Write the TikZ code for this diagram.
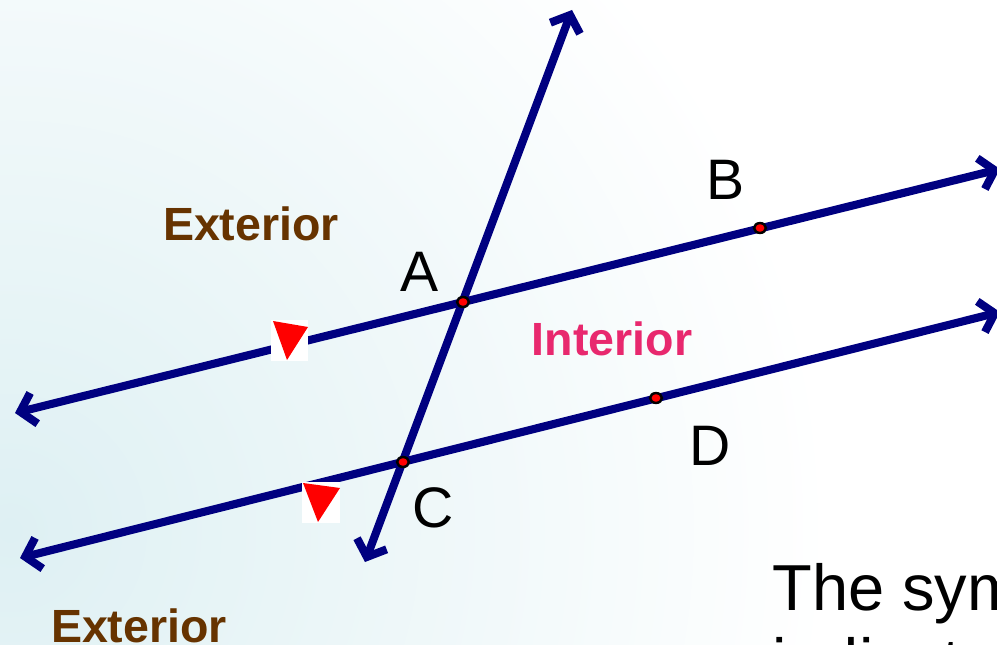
\documentclass[tikz,border=0pt]{standalone}
\usepackage{fontspec}
\setmainfont{Liberation Sans}
\usetikzlibrary{arrows.meta}
\definecolor{navyline}{RGB}{0,0,128}
\definecolor{extbrown}{RGB}{102,51,0}
\definecolor{intpink}{RGB}{232,40,110}
\definecolor{bgcyan}{RGB}{222,240,243}
\tikzset{
  parline/.style={navyline,line width=4.6pt,
    {Straight Barb[length=8pt,width=18pt]}-{Straight Barb[length=8pt,width=18pt]}},
  ptlabel/.style={anchor=base,inner sep=0pt,font=\fontsize{32.5}{37}\selectfont},
  region/.style={anchor=base,inner sep=0pt,font=\fontsize{26.5}{31}\selectfont\bfseries},
  note/.style={anchor=base west,inner sep=0pt,font=\fontsize{37}{44}\selectfont},
  reddot/.style={fill=red,draw=black,line width=1.4pt}
}
\begin{document}
\begin{tikzpicture}[x=0.02cm,y=-0.02cm]
  \useasboundingbox (0,0) rectangle (997,645);
  \begin{scope}
    \clip (0,0) rectangle (997,645);
    \shade[inner color=bgcyan,outer color=white] (10,530) circle (820);
  \end{scope}
  % points and line ends
  \coordinate (A) at (463,302);
  \coordinate (B) at (760,228);
  \coordinate (C) at (403,462);
  \coordinate (D) at (656,398);
  \coordinate (abW) at (15,413);
  \coordinate (abE) at (1000,169);
  \coordinate (cdW) at (20,558);
  \coordinate (cdE) at (1000,312);
  \coordinate (trN) at (572,10);
  \coordinate (trS) at (365,562);
  \draw[parline] (abW) -- (abE);
  \draw[parline] (cdW) -- (cdE);
  \draw[parline] (trS) -- (trN);
  % markers
  \fill[white] (271,320) rectangle (308,361);
  \fill[red] (273,321) -- (308,327) -- (287,360) -- cycle;
  \fill[white] (302,482) rectangle (340,523);
  \fill[red] (303,483) -- (340,488) -- (318,522) -- cycle;
  \foreach \p in {A,B,C,D}
    \draw[reddot] (\p) ellipse (3.4pt and 2.8pt);
  % labels
  \node[ptlabel] (labA) at (420,292) {A};
  \node[ptlabel] (labB) at (726,200) {B};
  \node[ptlabel] (labC) at (433,527) {C};
  \node[ptlabel] (labD) at (710,465) {D};
  \node[region,text=extbrown] (extTop) at (251,240) {Exterior};
  \node[region,text=extbrown] (extBot) at (139,642) {Exterior};
  \node[region,text=intpink] (intr) at (612,355) {Interior};
  \node[note] (noteA) at (772,610) {The sym};
  \node[note] (noteB) at (772,684) {indicat};
\end{tikzpicture}
\end{document}
